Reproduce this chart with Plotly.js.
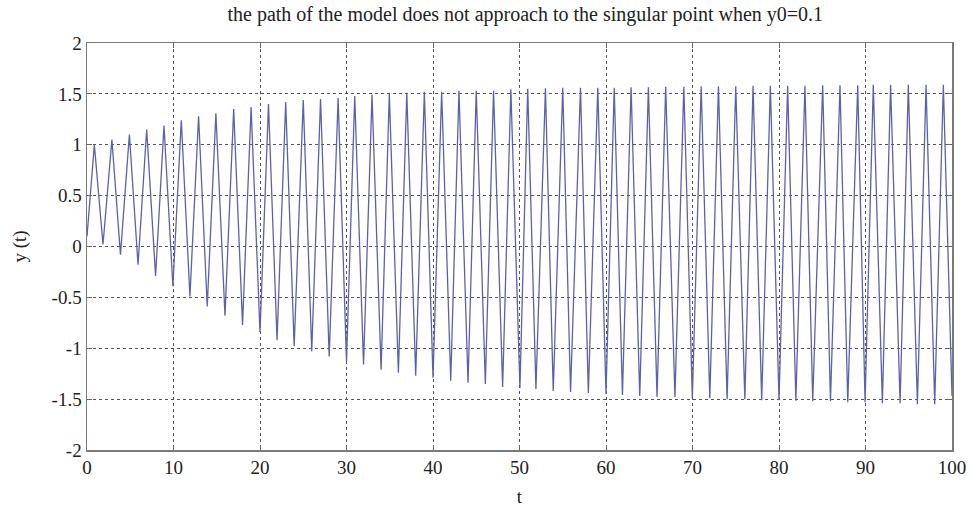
<!DOCTYPE html>
<html>
<head>
<meta charset="utf-8">
<script src="https://cdn.plot.ly/plotly-3.0.1.min.js"></script>
<style>html,body{margin:0;padding:0;background:#fff;}#chart{width:971px;height:513px;}</style>
</head>
<body>
<div id="chart"></div>
<script>
// Vertices of the path (start, then alternating peaks and troughs)
const tValues = [
  0, 0.85, 1.85, 2.88, 3.87, 4.9, 5.9, 6.9, 7.93, 8.9, 9.93,
  10.9, 11.9, 12.9, 13.9, 14.9, 15.95, 16.96, 17.98, 18.97, 20.0,
  20.98, 21.97, 22.97, 23.95, 25.0, 25.98, 27.0, 28.0, 29.03, 30.0,
  30.95, 31.97, 32.95, 34.0, 34.95, 36.0, 36.97, 38.0, 39.0, 40.0,
  41.0, 42.05, 43.0, 44.05, 45.0, 46.05, 47.0, 48.05, 49.0, 50.05,
  50.95, 51.9, 53.0, 53.9, 55.0, 55.9, 57.05, 57.96, 59.05, 60.0,
  60.95, 61.9, 62.9, 63.9, 64.9, 65.9, 66.9, 67.97, 69.0, 69.98,
  71.0, 72.0, 73.0, 74.0, 75.0, 76.05, 77.0, 78.0, 79.0, 80.0,
  81.0, 81.95, 83.0, 83.9, 85.05, 85.95, 87.05, 87.95, 89.1, 89.95,
  90.9, 91.95, 92.9, 94.0, 94.95, 96.0, 97.0, 98.0, 99.0, 100
];
const yValues = [
  0.1, 1.00, 0.02, 1.05, -0.08, 1.10, -0.18, 1.15, -0.29, 1.19, -0.39,
  1.24, -0.49, 1.28, -0.59, 1.31, -0.68, 1.35, -0.77, 1.37, -0.84,
  1.40, -0.92, 1.42, -0.98, 1.44, -1.03, 1.45, -1.08, 1.46, -1.13,
  1.48, -1.16, 1.49, -1.21, 1.50, -1.24, 1.51, -1.27, 1.52, -1.29,
  1.52, -1.32, 1.53, -1.34, 1.53, -1.35, 1.53, -1.38, 1.545, -1.39,
  1.55, -1.40, 1.555, -1.42, 1.56, -1.43, 1.56, -1.44, 1.56, -1.45,
  1.56, -1.46, 1.565, -1.47, 1.565, -1.48, 1.57, -1.48, 1.57, -1.49,
  1.575, -1.49, 1.575, -1.50, 1.575, -1.50, 1.58, -1.51, 1.58, -1.51,
  1.58, -1.515, 1.58, -1.52, 1.585, -1.52, 1.585, -1.53, 1.585, -1.53,
  1.59, -1.54, 1.59, -1.54, 1.59, -1.55, 1.59, -1.55, 1.59, -1.47
];
const xTicks = [0, 10, 20, 30, 40, 50, 60, 70, 80, 90, 100];
const yTicks = [-2, -1.5, -1, -0.5, 0, 0.5, 1, 1.5, 2];
const yTickText = ['-2', '-1.5', '-1', '-0.5', '0', '0.5', '1', '1.5', '2'];

const serif = 'Liberation Serif, Times New Roman, serif';

const trace = {
  x: tValues, y: yValues, type: 'scatter', mode: 'lines',
  line: {color: '#5b62ad', width: 1.3},
  hoverinfo: 'skip'
};

const axisCommon = {
  showline: true, mirror: 'ticks', linecolor: '#7a7a7a', linewidth: 1.5,
  ticks: 'inside', ticklen: 5, tickcolor: '#666',
  showgrid: true, gridcolor: '#555', griddash: 'dot', gridwidth: 1,
  zeroline: false,
  tickfont: {family: serif, size: 19, color: '#222'}
};

const layout = {
  width: 971, height: 513,
  margin: {l: 87, r: 19, t: 43, b: 63},
  paper_bgcolor: '#fff', plot_bgcolor: '#fff',
  showlegend: false,
  title: {text: 'the path of the model does not approach to the singular point when y0=0.1',
          font: {family: serif, size: 20, color: '#222'}, x: 0.541, xanchor: 'center', y: 0.973, yanchor: 'middle'},
  xaxis: Object.assign({}, axisCommon, {
    range: [0, 100], tickvals: xTicks, ticktext: xTicks.map(String),
    title: {text: 't', font: {family: serif, size: 19, color: '#222'}, standoff: 12}
  }),
  yaxis: Object.assign({}, axisCommon, {
    range: [-2, 2], tickvals: yTicks, ticktext: yTickText,
    title: {text: 'y (t)', font: {family: serif, size: 19, color: '#222'}, standoff: 20}
  })
};

Plotly.newPlot('chart', [trace], layout, {displayModeBar: false, staticPlot: true});
</script>
</body>
</html>
